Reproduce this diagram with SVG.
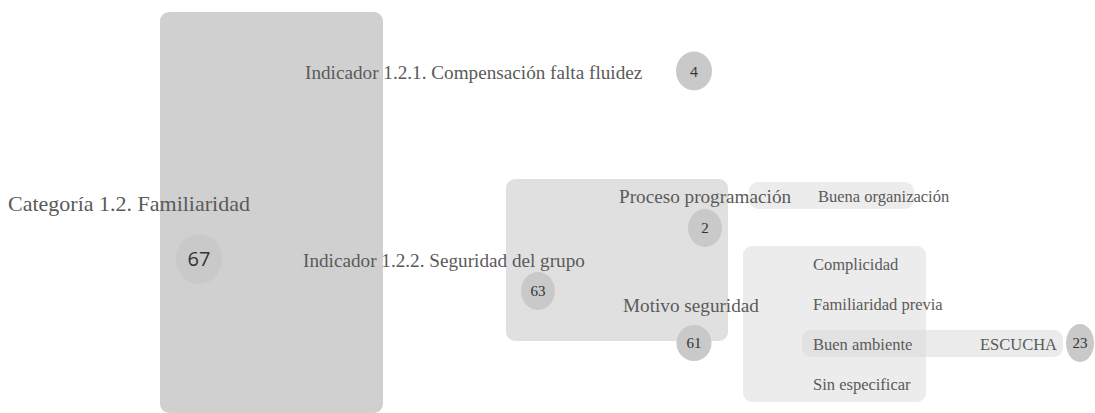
<svg xmlns="http://www.w3.org/2000/svg" width="1095" height="413" viewBox="0 0 1095 413">
<style>
  text { font-family: "Liberation Serif", "Times New Roman", serif; fill: #5a5a5a; }
  .num { fill: #333; text-anchor: middle; }
  .sans { font-family: "Open Sans", "Liberation Sans", sans-serif; }
  .bubble { fill: #c9c9c9; }
  .l1 { fill: #d0d0d0; }
  .l2 { fill: #e0e0e0; }
  .l3 { fill: #ececec; }
  .l4 { fill: #d8d8d8; fill-opacity: 0.5; }
  .big { font-size: 22px; }
  .mid { font-size: 19.2px; }
  .small { font-size: 16.5px; }
</style>
<rect width="1095" height="413" fill="#ffffff"/>
<g id="connectors"></g>
<g id="node-categoria">
  <rect class="l1" x="160" y="12" width="223" height="401" rx="9"/>
  <text class="big" x="8" y="211">Categoría 1.2. Familiaridad</text>
  <ellipse class="bubble" cx="199" cy="259" rx="23" ry="25"/>
  <text class="num sans" x="199" y="266" font-size="20">67</text>
</g>
<g id="node-indicador-121">
  <text class="mid" x="305" y="79" font-size="20.1">Indicador 1.2.1. Compensación falta fluidez</text>
  <ellipse class="bubble" cx="694" cy="71" rx="18" ry="19.5"/>
  <text class="num sans" x="694" y="76.5" font-size="14">4</text>
</g>
<g id="node-indicador-122">
  <rect class="l2" x="506" y="179" width="222" height="162" rx="9"/>
  <text class="mid" x="303" y="267">Indicador 1.2.2. Seguridad del grupo</text>
  <ellipse class="bubble" cx="538" cy="291" rx="17" ry="19"/>
  <text class="num" x="538" y="296" font-size="15">63</text>
</g>
<g id="node-proceso">
  <rect class="l3" x="749" y="182" width="165" height="27" rx="9"/>
  <text class="mid" x="619" y="203" font-size="19.4">Proceso programación</text>
  <ellipse class="bubble" cx="705" cy="228" rx="17" ry="19"/>
  <text class="num" x="705" y="233" font-size="15">2</text>
</g>
<g id="node-buena-organizacion">
  <text class="small" x="818" y="202">Buena organización</text>
</g>
<g id="node-motivo">
  <rect class="l3" x="743" y="246" width="183" height="156" rx="9"/>
  <text class="mid" x="623" y="312">Motivo seguridad</text>
  <ellipse class="bubble" cx="694" cy="343" rx="17.5" ry="18"/>
  <text class="num" x="694" y="348" font-size="15">61</text>
</g>
<g id="node-complicidad">
  <text class="small" x="813" y="270">Complicidad</text>
</g>
<g id="node-familiaridad-previa">
  <text class="small" x="813" y="310">Familiaridad previa</text>
</g>
<g id="node-buen-ambiente">
  <rect class="l4" x="802" y="330" width="261" height="27" rx="9"/>
  <text class="small" x="813" y="350">Buen ambiente</text>
</g>
<g id="node-escucha">
  <text class="small" x="980" y="350">ESCUCHA</text>
  <ellipse class="bubble" cx="1080" cy="343" rx="14" ry="19"/>
  <text class="num" x="1080" y="348" font-size="15">23</text>
</g>
<g id="node-sin-especificar">
  <text class="small" x="813" y="390">Sin especificar</text>
</g>
</svg>
